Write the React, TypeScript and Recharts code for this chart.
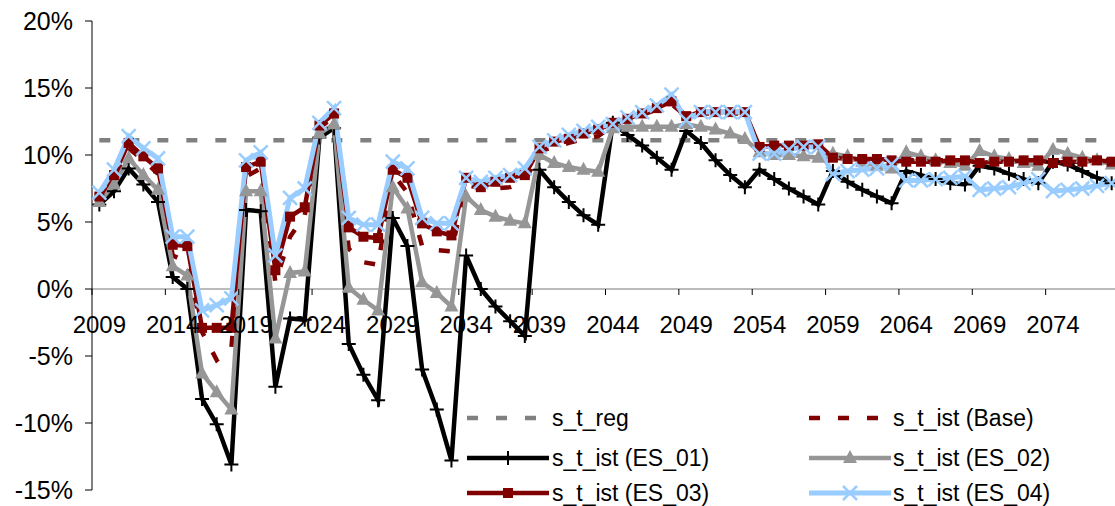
import { LineChart, Line, XAxis, YAxis, ReferenceLine } from "recharts";

const years = [
  2009, 2010, 2011, 2012, 2013, 2014, 2015, 2016, 2017, 2018,
  2019, 2020, 2021, 2022, 2023, 2024, 2025, 2026, 2027, 2028,
  2029, 2030, 2031, 2032, 2033, 2034, 2035, 2036, 2037, 2038,
  2039, 2040, 2041, 2042, 2043, 2044, 2045, 2046, 2047, 2048,
  2049, 2050, 2051, 2052, 2053, 2054, 2055, 2056, 2057, 2058,
  2059, 2060, 2061, 2062, 2063, 2064, 2065, 2066, 2067, 2068,
  2069, 2070, 2071, 2072, 2073, 2074, 2075, 2076, 2077, 2078,
];

const sReg = [
  11.1, 11.1, 11.1, 11.1, 11.1, 11.1, 11.1, 11.1, 11.1, 11.1,
  11.1, 11.1, 11.1, 11.1, 11.1, 11.1, 11.1, 11.1, 11.1, 11.1,
  11.1, 11.1, 11.1, 11.1, 11.1, 11.1, 11.1, 11.1, 11.1, 11.1,
  11.1, 11.1, 11.1, 11.1, 11.1, 11.1, 11.1, 11.1, 11.1, 11.1,
  11.1, 11.1, 11.1, 11.1, 11.1, 11.1, 11.1, 11.1, 11.1, 11.1,
  11.1, 11.1, 11.1, 11.1, 11.1, 11.1, 11.1, 11.1, 11.1, 11.1,
  11.1, 11.1, 11.1, 11.1, 11.1, 11.1, 11.1, 11.1, 11.1, 11.1,
];

const sBase = [
  6.8, 8.2, 10.5, 9.6, 8.6, 2.5, 2.0, -3.2, -5.3, -4.4,
  8.4, 9.0, 0.5, 3.9, 5.5, 12.0, 12.9, 3.0, 2.0, 1.8,
  8.6, 7.2, 3.2, 2.9, 2.8, 7.8, 7.5, 7.5, 7.6, 8.0,
  10.3, 10.6, 10.9, 11.2, 11.4, 12.2, 12.6, 13.0, 13.4, 13.8,
  12.9, 13.1, 13.1, 13.1, 13.1, 10.6, 10.7, 10.7, 10.7, 10.7,
  9.7, 9.7, 9.7, 9.7, 9.6, 9.6, 9.6, 9.6, 9.6, 9.6,
  9.6, 9.6, 9.6, 9.6, 9.6, 9.6, 9.6, 9.6, 9.6, 9.6,
];

const sEs01 = [
  6.3, 7.3, 9.0, 7.8, 6.5, 0.9, 0.0, -8.2, -10.1, -13.1,
  5.9, 5.8, -7.3, -2.2, -2.3, 11.3, 12.0, -4.1, -6.4, -8.3,
  5.3, 3.2, -6.0, -9.0, -12.8, 2.5, 0.0, -1.3, -2.4, -3.5,
  8.9, 7.6, 6.5, 5.5, 4.8, 12.4, 11.5, 10.7, 9.8, 8.9,
  11.8, 10.9, 9.6, 8.5, 7.6, 8.9, 8.2, 7.5, 6.9, 6.3,
  8.8, 8.0, 7.4, 6.9, 6.4, 8.8, 8.5, 8.2, 7.9, 7.8,
  9.2, 9.0, 8.6, 8.2, 7.9, 9.5, 9.3, 8.8, 8.3, 7.9,
];

const sEs02 = [
  6.5, 7.8, 9.75, 8.5, 7.4, 1.7, 1.0, -6.3, -7.7, -9.0,
  7.3, 7.3, -3.7, 1.2, 1.3, 11.6, 12.3, 0.1, -0.8, -1.6,
  7.6, 6.0, 0.5, -0.3, -1.3, 6.9, 5.9, 5.4, 5.1, 4.9,
  10.0, 9.4, 9.1, 8.9, 8.75, 12.0, 12.1, 12.1, 12.1, 12.1,
  12.3, 12.1, 11.9, 11.6, 11.2, 10.2, 10.0, 10.0, 9.9, 9.8,
  10.1, 9.9, 9.5, 9.2, 9.0, 10.2, 9.9, 9.6, 9.4, 9.2,
  10.3, 9.9, 9.7, 9.4, 9.2, 10.4, 10.1, 9.8, 9.6, 9.3,
];

const sEs03 = [
  6.9, 8.5, 10.9, 9.9, 9.0, 3.3, 3.2, -2.9, -2.9, -2.9,
  9.1, 9.5, 1.4, 5.4, 6.1, 12.2, 13.1, 4.6, 3.9, 3.8,
  8.9, 8.3, 4.9, 4.3, 4.0, 8.3, 7.6, 8.0, 8.3, 8.5,
  10.5, 11.0, 11.2, 11.6, 11.9, 12.4, 12.7, 13.1, 13.5, 14.0,
  12.9, 13.2, 13.2, 13.2, 13.2, 10.6, 10.7, 10.7, 10.7, 10.8,
  9.8, 9.7, 9.7, 9.7, 9.6, 9.5, 9.5, 9.5, 9.6, 9.6,
  9.4, 9.5, 9.5, 9.6, 9.6, 9.4, 9.5, 9.5, 9.6, 9.5,
];

const sEs04 = [
  7.2, 8.9, 11.4, 10.5, 9.75, 3.9, 3.9, -1.6, -1.2, -0.7,
  9.6, 10.2, 2.5, 6.8, 7.5, 12.4, 13.5, 5.3, 4.8, 4.8,
  9.5, 9.0, 5.3, 4.9, 4.9, 8.3, 8.0, 8.3, 8.5, 9.0,
  10.6, 11.1, 11.5, 11.8, 12.1, 12.3, 12.8, 13.2, 13.7, 14.5,
  12.6, 13.2, 13.2, 13.2, 13.2, 10.1, 10.1, 10.4, 10.6, 10.6,
  8.6, 8.8, 8.9, 9.0, 9.3, 8.1, 8.1, 8.2, 8.3, 8.4,
  7.4, 7.5, 7.6, 7.9, 8.2, 7.3, 7.4, 7.5, 7.7, 7.9,
];

const yTicks = [-15, -10, -5, 0, 5, 10, 15, 20];
const xTicks = [2009, 2014, 2019, 2024, 2029, 2034, 2039, 2044, 2049, 2054, 2059, 2064, 2069, 2074];

const data = years.map((year, i) => ({
  year,
  reg: sReg[i],
  base: sBase[i],
  es01: sEs01[i],
  es02: sEs02[i],
  es03: sEs03[i],
  es04: sEs04[i],
}));

const FONT = "'Liberation Sans', Arial, sans-serif";
const GRAY = "#808080";
const GRAY_LIGHT = "#969696";
const DARK_RED = "#800000";
const LIGHT_BLUE = "#99ccff";

// chart geometry (the x axis sits on the 0% line, like the Excel original)
const CHART_W = 1120;
const CHART_H = 506;
const TOP = 21;
const AXIS_W = 92;
const X_AXIS_H = 16;
const PLOT_H = CHART_H - TOP - X_AXIS_H;
const PLOT_W = CHART_W - AXIS_W - 1;
const BAND = PLOT_W / years.length;
const ZERO_Y = TOP + (PLOT_H * 20) / 35;

type DotProps = { cx?: number; cy?: number };

function PlusDot({ cx, cy }: DotProps) {
  if (cx == null || cy == null) return null;
  return <path d={`M${cx - 7},${cy}H${cx + 7}M${cx},${cy - 7}V${cy + 7}`} stroke="#000" strokeWidth={2} />;
}

function TriangleDot({ cx, cy }: DotProps) {
  if (cx == null || cy == null) return null;
  return <path d={`M${cx},${cy - 8}L${cx + 7},${cy + 5}L${cx - 7},${cy + 5}Z`} fill={GRAY_LIGHT} />;
}

function SquareDot({ cx, cy }: DotProps) {
  if (cx == null || cy == null) return null;
  return <rect x={cx - 5} y={cy - 5} width={10} height={10} fill={DARK_RED} />;
}

function CrossDot({ cx, cy }: DotProps) {
  if (cx == null || cy == null) return null;
  return (
    <path
      d={`M${cx - 7},${cy - 7}L${cx + 7},${cy + 7}M${cx + 7},${cy - 7}L${cx - 7},${cy + 7}`}
      stroke={LIGHT_BLUE}
      strokeWidth={2.5}
    />
  );
}

function YearTick(props: { x?: number; payload?: { value: number } }) {
  const { x = 0, payload } = props;
  const edge = x - BAND / 2;
  return (
    <g>
      <line x1={edge} x2={edge} y1={ZERO_Y} y2={ZERO_Y + 6} stroke="#000" />
      <text x={x} y={ZERO_Y + 44} textAnchor="middle" fontSize={24} fontFamily={FONT} fill="#000">
        {payload?.value}
      </text>
    </g>
  );
}

function LegendBox() {
  const rows = [
    { y: 18, left: { label: "s_t_reg", kind: "reg" }, right: { label: "s_t_ist (Base)", kind: "base" } },
    { y: 58, left: { label: "s_t_ist (ES_01)", kind: "es01" }, right: { label: "s_t_ist (ES_02)", kind: "es02" } },
    { y: 93, left: { label: "s_t_ist (ES_03)", kind: "es03" }, right: { label: "s_t_ist (ES_04)", kind: "es04" } },
  ];
  const sample = (kind: string, x0: number, y: number) => {
    const x1 = x0 + 82;
    const mid = x0 + 41;
    switch (kind) {
      case "reg":
        return <line x1={x0} x2={x1} y1={y} y2={y} stroke={GRAY} strokeWidth={4.5} strokeDasharray="11 18" />;
      case "base":
        return <line x1={x0} x2={x1} y1={y} y2={y} stroke={DARK_RED} strokeWidth={4.5} strokeDasharray="11 18" />;
      case "es01":
        return (
          <g>
            <line x1={x0} x2={x1} y1={y} y2={y} stroke="#000" strokeWidth={4.5} />
            <PlusDot cx={mid} cy={y} />
          </g>
        );
      case "es02":
        return (
          <g>
            <line x1={x0} x2={x1} y1={y} y2={y} stroke={GRAY_LIGHT} strokeWidth={4.5} />
            <TriangleDot cx={mid} cy={y} />
          </g>
        );
      case "es03":
        return (
          <g>
            <line x1={x0} x2={x1} y1={y} y2={y} stroke={DARK_RED} strokeWidth={4.5} />
            <SquareDot cx={mid} cy={y} />
          </g>
        );
      default:
        return (
          <g>
            <line x1={x0} x2={x1} y1={y} y2={y} stroke={LIGHT_BLUE} strokeWidth={5} />
            <CrossDot cx={mid} cy={y} />
          </g>
        );
    }
  };
  return (
    <svg width={650} height={106} style={{ position: "absolute", left: 460, top: 400 }}>
      {rows.map((r) => (
        <g key={r.y}>
          {sample(r.left.kind, 7, r.y)}
          <text x={92} y={r.y + 8} fontSize={23} fontFamily={FONT} fill="#000">
            {r.left.label}
          </text>
          {sample(r.right.kind, 349, r.y)}
          <text x={433} y={r.y + 8} fontSize={23} fontFamily={FONT} fill="#000">
            {r.right.label}
          </text>
        </g>
      ))}
    </svg>
  );
}

export default function App() {
  return (
    <div
      style={{
        position: "absolute",
        left: 0,
        top: 0,
        width: 1115,
        height: 506,
        overflow: "hidden",
        background: "#fff",
      }}
    >
      <LineChart
        width={CHART_W}
        height={CHART_H}
        data={data}
        margin={{ top: TOP, right: 1, bottom: 0, left: 0 }}
      >
        <XAxis
          type="number"
          dataKey="year"
          domain={[2008.5, 2078.5]}
          ticks={xTicks}
          interval={0}
          height={X_AXIS_H}
          axisLine={false}
          tickLine={false}
          tick={<YearTick />}
        />
        <YAxis
          type="number"
          domain={[-15, 20]}
          ticks={yTicks}
          interval={0}
          width={AXIS_W}
          tickFormatter={(v: number) => `${v}%`}
          axisLine={{ stroke: "#000" }}
          tickLine={{ stroke: "#000" }}
          tickSize={7}
          tickMargin={12}
          tick={{ fontSize: 25, fill: "#000", fontFamily: FONT }}
        />
        <ReferenceLine y={0} stroke="#777" />
        <Line
          dataKey="reg"
          stroke={GRAY}
          strokeWidth={4.5}
          strokeDasharray="11 18"
          dot={false}
          activeDot={false}
          isAnimationActive={false}
        />
        <Line
          dataKey="base"
          stroke={DARK_RED}
          strokeWidth={4.5}
          strokeDasharray="11 18"
          dot={false}
          activeDot={false}
          isAnimationActive={false}
        />
        <Line
          dataKey="es01"
          stroke="#000"
          strokeWidth={4.5}
          dot={(p: any) => <PlusDot key={`a${p.index}`} cx={p.cx} cy={p.cy} />}
          activeDot={false}
          isAnimationActive={false}
        />
        <Line
          dataKey="es02"
          stroke={GRAY_LIGHT}
          strokeWidth={4.5}
          dot={(p: any) => <TriangleDot key={`b${p.index}`} cx={p.cx} cy={p.cy} />}
          activeDot={false}
          isAnimationActive={false}
        />
        <Line
          dataKey="es03"
          stroke={DARK_RED}
          strokeWidth={4.5}
          dot={(p: any) => <SquareDot key={`c${p.index}`} cx={p.cx} cy={p.cy} />}
          activeDot={false}
          isAnimationActive={false}
        />
        <Line
          dataKey="es04"
          stroke={LIGHT_BLUE}
          strokeWidth={5}
          dot={(p: any) => <CrossDot key={`d${p.index}`} cx={p.cx} cy={p.cy} />}
          activeDot={false}
          isAnimationActive={false}
        />
      </LineChart>
      <LegendBox />
    </div>
  );
}
